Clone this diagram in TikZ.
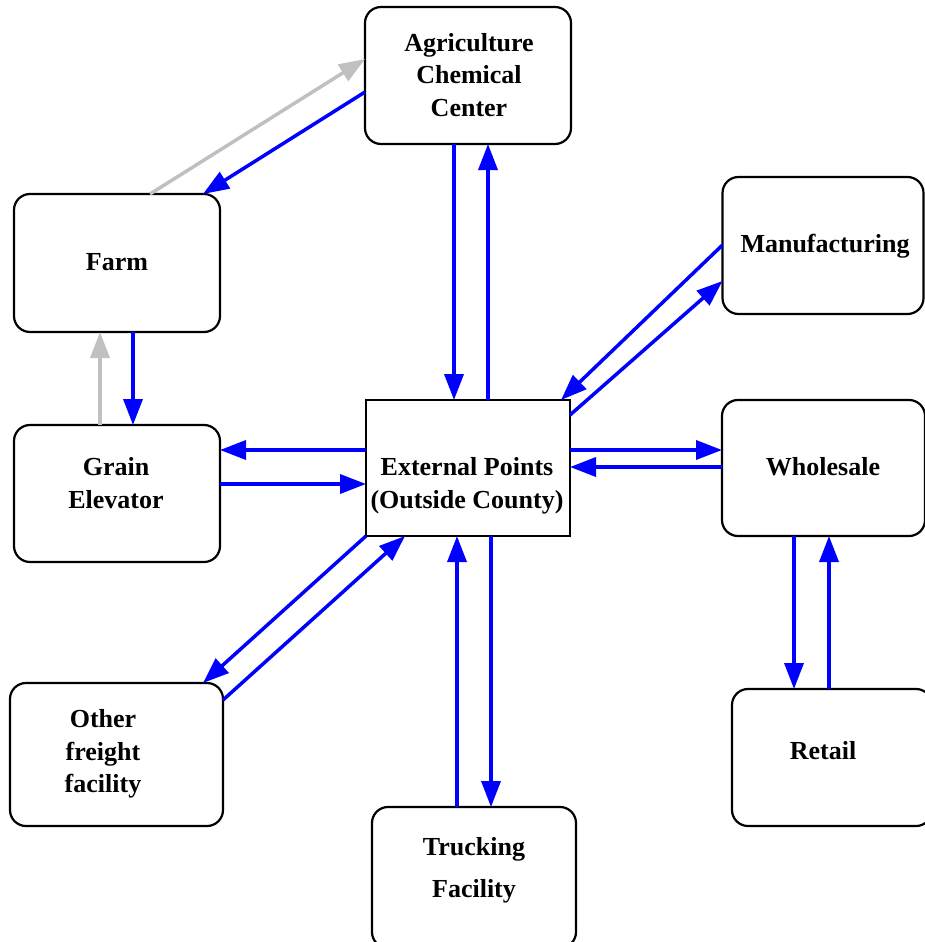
\documentclass[tikz,border=0pt]{standalone}
\usepackage{fontspec}
\setmainfont{Liberation Serif}
\usetikzlibrary{arrows.meta}
\definecolor{flowblue}{RGB}{0,0,255}
\definecolor{flowgrey}{RGB}{192,192,192}
\tikzset{
  box/.style={draw=black, line width=2.2pt, rounded corners=16pt, inner sep=0pt, outer sep=0pt},
  sharpbox/.style={draw=black, line width=2.2pt, inner sep=0pt, outer sep=0pt},
  lbl/.style={font=\bfseries\fontsize{26}{32.5}\selectfont, align=center, inner sep=0pt},
  flow/.style={draw=flowblue, line width=3.5pt, -{Triangle[length=26pt,width=19pt]}},
  backflow/.style={draw=flowgrey, line width=3.5pt, -{Triangle[length=26pt,width=19pt]}}
}
\begin{document}
\begin{tikzpicture}[x=1pt,y=-1pt]
\useasboundingbox (0,0) rectangle (925,942);
\clip (0,0) rectangle (925,942);
% boxes
\node[box, minimum width=206pt, minimum height=137pt] (agri) at (468,75.5) {};
\node[box, minimum width=206pt, minimum height=138pt] (farm) at (117,263) {};
\node[box, minimum width=206pt, minimum height=137pt] (grain) at (117,493.5) {};
\node[sharpbox, minimum width=204pt, minimum height=136pt] (ext) at (468,468) {};
\node[box, minimum width=201pt, minimum height=137pt] (manu) at (823,245.5) {};
\node[box, minimum width=203pt, minimum height=136pt] (whole) at (823.5,468) {};
\node[box, minimum width=200pt, minimum height=137pt] (retail) at (832,757.5) {};
\node[box, minimum width=213pt, minimum height=143pt] (other) at (116.5,754.5) {};
\node[box, minimum width=204pt, minimum height=141pt] (truck) at (474,877.5) {};
% labels
\node[lbl] (tagri) at (469,75) {Agriculture\\Chemical\\Center};
\node[lbl] (tfarm) at (117,262) {Farm};
\node[lbl] (tgrain) at (116,483) {Grain\\Elevator};
\node[lbl] (text) at (467,486) {External Points\\(Outside County)};
\node[lbl] (tmanu) at (825,246) {Manufacturing};
\node[lbl] (twhole) at (823,467) {Wholesale};
\node[lbl] (tretail) at (823,751) {Retail};
\node[lbl] (tother) at (103,754) {Other\\freight\\facility};
\node[lbl, font=\bfseries\fontsize{26}{42}\selectfont] (ttruck) at (474,870) {Trucking\\Facility};
% connectors
\draw[flow] (agri.west |- 0,92) -- (farm.north -| 203,0);
\draw[backflow] (farm.north -| 150,0) -- (agri.west |- 0,59);
\draw[flow] (agri.south -| 454,0) -- (ext.north -| 454,0);
\draw[flow] (ext.north -| 488,0) -- (agri.south -| 488,0);
\draw[flow] (manu.west |- 0,245) -- (ext.north -| 561,0);
\draw[flow] (ext.east |- 0,415) -- (manu.west |- 0,281);
\draw[flow] (ext.east |- 0,450) -- (whole.west |- 0,450);
\draw[flow] (whole.west |- 0,467) -- (ext.east |- 0,467);
\draw[flow] (whole.south -| 794,0) -- (retail.north -| 794,0);
\draw[flow] (retail.north -| 829,0) -- (whole.south -| 829,0);
\draw[flow] (ext.west |- 0,450) -- (grain.east |- 0,450);
\draw[flow] (grain.east |- 0,484) -- (ext.west |- 0,484);
\draw[flow] (farm.south -| 133,0) -- (grain.north -| 133,0);
\draw[backflow] (grain.north -| 100,0) -- (farm.south -| 100,0);
\draw[flow] (ext.south west) -- (other.north -| 203,0);
\draw[flow] (other.east |- 0,700) -- (ext.south -| 405,0);
\draw[flow] (truck.north -| 457,0) -- (ext.south -| 457,0);
\draw[flow] (ext.south -| 491,0) -- (truck.north -| 491,0);
\end{tikzpicture}
\end{document}
